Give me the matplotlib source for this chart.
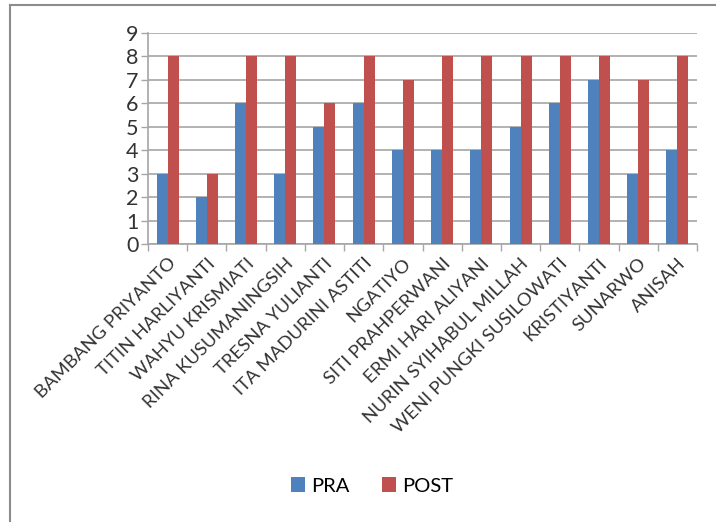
import matplotlib
matplotlib.use("Agg")
import matplotlib.pyplot as plt
import numpy as np
from matplotlib.lines import Line2D

names = ["BAMBANG PRIYANTO", "TITIN HARLIYANTI", "WAHYU KRISMIATI", "RINA KUSUMANINGSIH",
         "TRESNA YULIANTI", "ITA MADURINI ASTITI", "NGATIYO", "SITI PRAHPERWANI",
         "ERMI HARI ALIYANI", "NURIN SYIHABUL MILLAH", "WENI PUNGKI SUSILOWATI",
         "KRISTIYANTI", "SUNARWO", "ANISAH"]
pra = [3, 2, 6, 3, 5, 6, 4, 4, 4, 5, 6, 7, 3, 4]
post = [8, 3, 8, 8, 6, 8, 7, 8, 8, 8, 8, 8, 7, 8]
yticks = list(range(0, 10))

plt.rcParams['font.family'] = ['Lato', 'DejaVu Sans']

fig = plt.figure(figsize=(7.16, 5.22), dpi=100)
ax = fig.add_axes([148/716, 1-244/522, (697-148)/716, (244-33)/522])

x = np.arange(len(names))
w = 0.28
blue = "#4F81BD"
red = "#C0504D"
ax.bar(x - w/2, pra, width=w, color=blue, label="PRA", zorder=3)
ax.bar(x + w/2, post, width=w, color=red, label="POST", zorder=3)

ax.set_xlim(-0.5, len(names) - 0.5)
ax.set_ylim(0, 9)
ax.set_yticks(yticks)
ax.set_yticklabels([str(v) for v in yticks], fontsize=15.5, color="#333333")
ax.yaxis.grid(True, color="#A6A6A6", linewidth=1.2, zorder=0)
ax.set_axisbelow(True)

for s in ["top", "right"]:
    ax.spines[s].set_visible(False)
for s in ["left", "bottom"]:
    ax.spines[s].set_color("#A6A6A6")
    ax.spines[s].set_linewidth(1.2)

ax.set_xticks(np.arange(-0.5, len(names) + 0.5, 1.0))
ax.set_xticklabels([])
ax.tick_params(axis='x', length=5, color="#A6A6A6", width=1.0)
ax.tick_params(axis='y', length=5, color="#A6A6A6", width=1.0, pad=2)
ax.set_xticks(x, minor=True)
ax.set_xticklabels(names, minor=True, rotation=45, ha='right', va='top',
                   rotation_mode='anchor', fontsize=13.3, color="#333333")
ax.tick_params(axis='x', which='minor', length=0, pad=8)

fig.legend(loc='center', bbox_to_anchor=(0.52, 1-486/522), ncol=2, frameon=False,
           fontsize=14.5, handlelength=0.7, handleheight=0.7, handletextpad=0.3,
           columnspacing=1.6)

fig.add_artist(Line2D([10/716, 10/716], [0, 1-5/522], transform=fig.transFigure,
                      color="#8C8C8C", linewidth=1.5))
fig.add_artist(Line2D([10/716, 1], [1-5/522, 1-5/522], transform=fig.transFigure,
                      color="#8C8C8C", linewidth=1.5))

fig.savefig("out.png", dpi=100)
